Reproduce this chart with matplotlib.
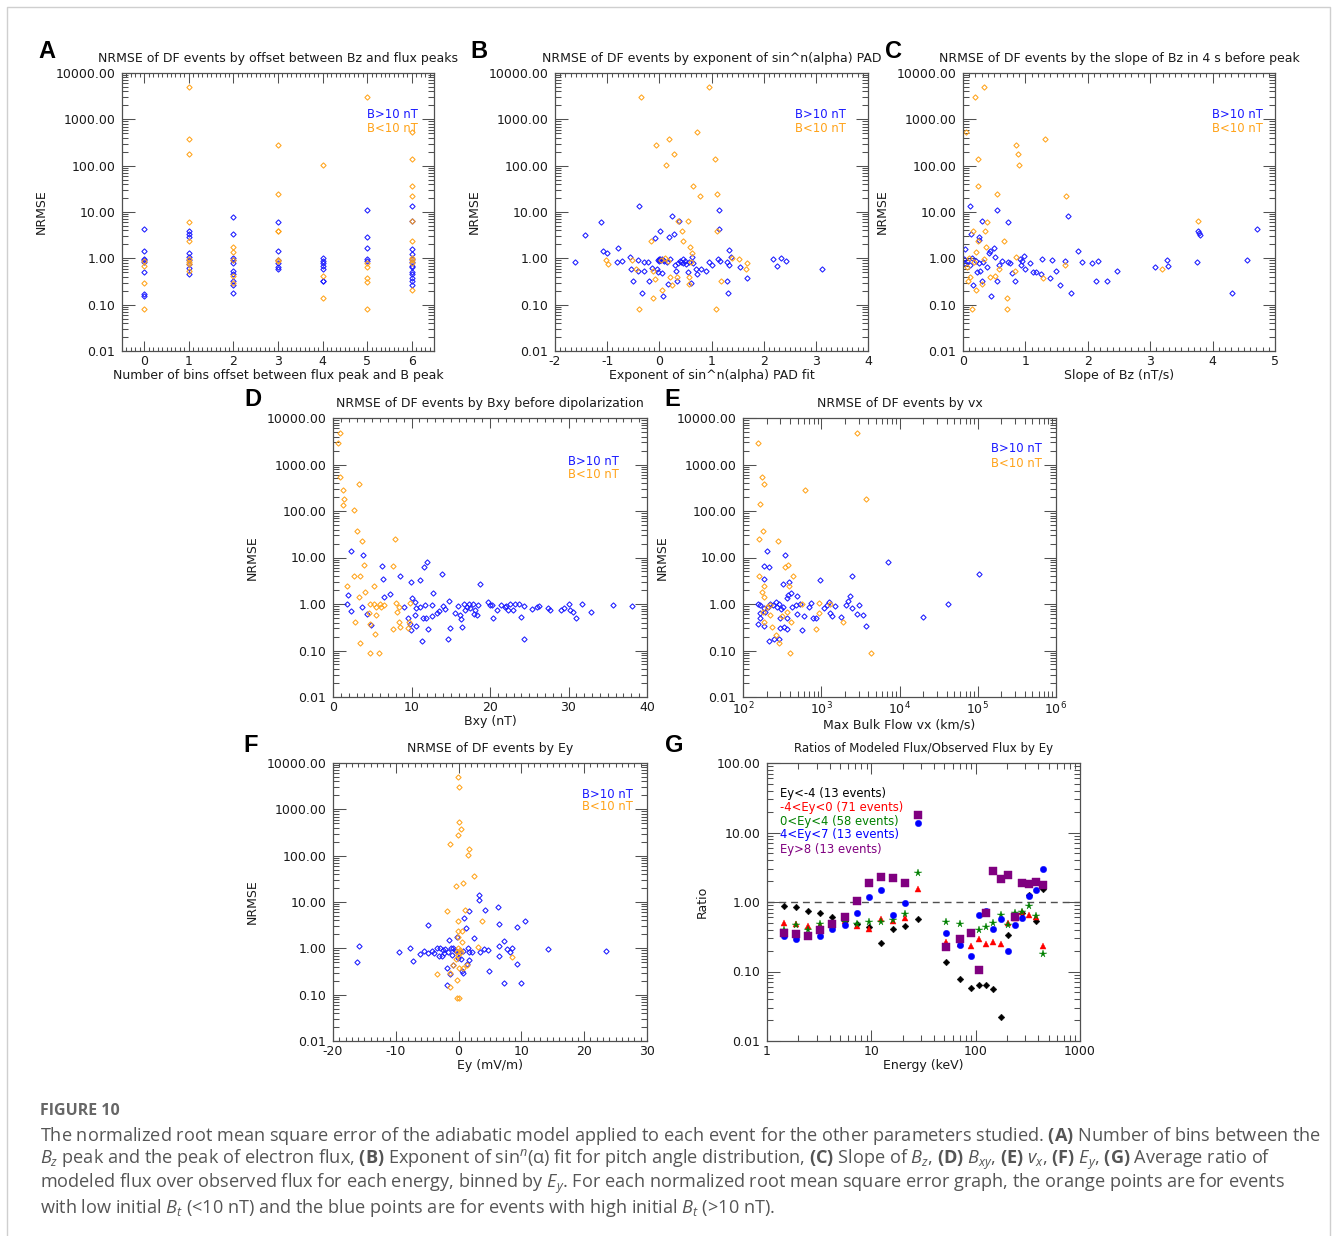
import numpy as np
import matplotlib
matplotlib.use('Agg')
import matplotlib.pyplot as plt
from matplotlib.ticker import MultipleLocator, LogLocator, NullFormatter, FuncFormatter, FixedLocator
from matplotlib.lines import Line2D

plt.rcParams['font.family'] = ['DejaVu Sans']
plt.rcParams['axes.unicode_minus'] = False
plt.rcParams['mathtext.fontset'] = 'custom'
plt.rcParams['mathtext.rm'] = 'Open Sans'
plt.rcParams['mathtext.it'] = 'Open Sans:italic'
plt.rcParams['mathtext.bf'] = 'Open Sans:bold'
plt.rcParams['mathtext.sf'] = 'DejaVu Sans'

# ---------------- data ----------------
# Panel A: offset bins
a_blue_x = [0]*8 + [1]*9 + [2]*10 + [3]*6 + [4]*7 + [5]*5 + [6]*13
a_blue_y = [4.3, 1.42, 0.97, 0.9, 0.85, 0.5, 0.174, 0.152,
            3.85, 3.37, 2.86, 1.3, 1.05, 0.9, 0.75, 0.62, 0.47,
            7.9, 3.3, 1.0, 0.9, 0.8, 0.54, 0.46, 0.33, 0.26, 0.177,
            6.2, 1.47, 0.93, 0.78, 0.66, 0.58,
            1.0, 0.89, 0.78, 0.68, 0.58, 0.33, 0.32,
            10.8, 2.86, 1.67, 0.97, 0.89,
            13.6, 6.45, 1.57, 1.24, 0.95, 0.85, 0.7, 0.65, 0.51, 0.46, 0.37, 0.32, 0.26]
a_orange_x = [0]*4 + [1]*9 + [2]*5 + [3]*6 + [4]*3 + [5]*6 + [6]*10
a_orange_y = [0.89, 0.69, 0.29, 0.082,
              4870, 375, 177, 6.2, 2.34, 0.97, 0.85, 0.75, 0.52,
              1.73, 1.35, 0.93, 0.41, 0.29,
              273, 24.8, 3.92, 3.8, 0.94, 0.86,
              104, 0.41, 0.138,
              3000, 0.78, 0.64, 0.37, 0.31, 0.082,
              525, 138, 36.5, 22.1, 6.45, 2.38, 1.0, 0.9, 0.8, 0.21]

# Panel B: exponent of sin^n PAD fit
b_blue_x = [-1.62, -1.42, -1.125, -1.075, -1.0, -0.82, -0.79, -0.72, -0.564, -0.545, -0.51, -0.40, -0.39,
            -0.40, -0.33, -0.30, -0.30, -0.226, -0.194, -0.136, -0.086, -0.05, -0.02, 0.01, 0.0, 0.01,
            0.04, 0.055, 0.07, 0.09, 0.14, 0.17, 0.19, 0.2, 0.25, 0.28, 0.3, 0.32, 0.336, 0.38, 0.39,
            0.42, 0.456, 0.49, 0.52, 0.55, 0.57, 0.6, 0.62, 0.65, 0.70, 0.725, 0.79, 0.9, 0.955, 1.0,
            1.146, 1.146, 1.13, 1.16, 1.29, 1.3, 1.32, 1.33, 1.34, 1.375, 1.54, 1.69, 2.17, 2.26, 2.34,
            2.43, 3.12, -0.02, 0.0, 0.02, 0.05, 0.07, 0.45, 0.35]
b_blue_y = [0.85, 3.2, 6.2, 1.42, 1.3, 0.85, 1.7, 0.89, 1.08, 0.6, 0.32, 0.52, 13.4,
            0.92, 0.177, 0.54, 0.82, 0.82, 0.32, 0.62, 2.7, 0.6, 0.5, 3.85, 0.89, 0.97,
            0.92, 0.48, 0.155, 0.89, 0.82, 0.28, 2.86, 0.97, 8.0, 3.37, 0.73, 0.54, 0.32, 6.3, 0.89,
            0.82, 0.97, 0.89, 0.75, 0.5, 0.85, 0.29, 1.05, 0.79, 0.6, 0.46, 0.59, 0.54, 0.82, 0.73,
            10.8, 4.3, 0.95, 0.89, 0.32, 0.82, 0.177, 1.54, 0.73, 1.08, 0.64, 0.37, 0.97, 0.68, 1.0,
            0.86, 0.59, 0.93, 0.95, 0.9, 0.96, 0.92, 0.8, 0.78]
b_orange_x = [-0.354, 0.948, -0.073, 0.189, 0.29, 0.12, 0.73, 1.07, 0.65, 0.77, 1.11, 0.36, 0.54, 0.425,
              1.11, -0.156, 0.45, 0.58, 0.635, -1.02, -0.985, -0.526, -0.456, -0.12, -0.08, 0.055,
              -0.124, -0.39, 0.11, 0.17, 0.214, 0.24, 0.336, 0.56, 0.56, 0.6, 1.095, 1.18, 1.4, 1.52,
              1.66, 1.69, 0.03]
b_orange_y = [3000, 4870, 273, 375, 177, 104, 530, 138, 36.5, 22, 25, 6.45, 6.5, 3.85,
              3.85, 2.37, 2.35, 1.73, 1.33, 0.94, 0.75, 0.94, 0.6, 0.54, 0.36, 0.21,
              0.138, 0.082, 1.0, 0.89, 0.40, 0.27, 0.39, 0.39, 0.28, 0.82, 0.082, 0.32, 1.0, 0.97,
              0.6, 0.79, 0.94]

# Panel C: slope of Bz
c_blue_x = [0.107, 0.544, 0.715, 0.31, 0.133, 0.26, 0.25, 0.032, 0.5, 0.44, 0.42, 1.68, 3.77, 3.78, 3.8,
            4.71, 4.55, 3.75, 3.27, 3.29, 3.07, 4.31, 2.47, 2.3, 2.13, 2.16, 2.07, 1.91, 1.85, 1.73,
            1.56, 1.49, 1.42, 1.4, 1.63, 1.26, 1.25, 1.17, 1.12, 1.08, 1.0, 0.98, 0.945, 0.93, 0.92,
            0.83, 0.79, 0.75, 0.725, 0.57, 0.544, 0.52, 0.45, 0.384, 0.32, 0.30, 0.277, 0.224, 0.213,
            0.16, 0.117, 0.064, 0.027, 0.02, 0.144, 0.25, 0.62]
c_blue_y = [13.6, 10.8, 6.2, 6.5, 3.37, 2.86, 2.54, 1.57, 1.67, 1.47, 1.3, 8.0, 3.9, 3.5, 3.15,
            4.3, 0.94, 0.83, 0.94, 0.68, 0.65, 0.177, 0.52, 0.32, 0.33, 0.86, 0.78, 0.83, 1.42, 0.177,
            0.27, 0.54, 0.94, 0.37, 0.86, 0.97, 0.47, 0.51, 0.51, 0.78, 0.6, 1.1, 0.89, 0.73, 0.97,
            0.32, 0.48, 0.78, 0.82, 0.73, 0.32, 1.05, 0.155, 0.64, 0.82, 0.33, 0.54, 0.5, 0.89,
            0.26, 0.73, 0.89, 0.78, 0.97, 1.0, 0.78, 0.89]
c_orange_x = [0.34, 0.20, 0.053, 0.854, 0.88, 0.89, 1.32, 0.24, 0.235, 0.544, 1.65, 0.384, 0.347, 0.16,
              0.235, 0.65, 0.37, 0.21, 3.77, 3.19, 0.08, 0.117, 0.213, 0.144, 0.70, 0.71, 0.43, 0.52,
              0.57, 0.83, 0.85, 1.28, 1.64, 0.1, 0.17, 0.06, 0.33, 0.30]
c_orange_y = [4870, 3000, 525, 273, 177, 104, 375, 138, 36.5, 25, 22, 6.2, 3.85, 3.9,
              2.38, 2.35, 1.73, 1.35, 6.5, 0.6, 0.33, 0.4, 0.21, 0.082, 0.138, 0.082, 0.39, 0.41,
              0.58, 0.54, 1.05, 0.37, 0.72, 1.0, 0.82, 0.64, 0.97, 0.28]

# Panel D: Bxy before dipolarization
d_blue_x = [2.34, 3.83, 6.2, 6.4, 8.5, 9.9, 11.1, 11.6, 12.0, 12.8, 13.9, 18.7, 1.87, 1.79, 2.26, 3.7,
            4.34, 4.85, 6.55, 7.3, 9.06, 9.57, 9.8, 9.96, 10.1, 10.4, 10.4, 10.55, 10.6, 11.06, 11.3,
            11.5, 11.7, 11.9, 12.1, 12.55, 12.55, 13.2, 13.5, 14.0, 14.26, 14.7, 14.9, 14.8, 15.5,
            15.96, 16.2, 16.3, 16.4, 16.7, 16.85, 17.1, 17.3, 17.5, 17.8, 17.9, 18.1, 18.4, 18.5,
            19.8, 20.0, 20.3, 20.4, 20.85, 21.4, 21.9, 22.1, 22.3, 22.5, 22.9, 23.2, 23.7, 24.0,
            24.3, 24.3, 25.4, 25.96, 26.2, 27.4, 27.7, 29.1, 29.45, 30.0, 30.2, 30.6, 30.97, 31.7,
            32.85, 35.7, 38.1]
d_blue_y = [14.1, 11.4, 6.6, 3.45, 3.95, 2.98, 3.3, 6.4, 8.0, 1.75, 4.4, 2.74, 1.54, 0.98, 0.7, 0.88,
            0.6, 0.35, 1.44, 1.62, 0.88, 0.49, 0.38, 0.275, 1.37, 1.12, 0.58, 0.81, 0.34, 0.88, 0.162,
            0.51, 0.94, 0.51, 0.285, 0.95, 0.55, 0.65, 0.7, 0.92, 0.78, 0.18, 0.31, 1.16, 0.65,
            0.92, 0.58, 0.475, 0.325, 1.0, 0.74, 0.88, 1.0, 0.82, 1.0, 0.6, 0.74, 0.58, 0.95,
            1.08, 0.95, 0.95, 0.51, 0.74, 0.95, 0.88, 0.92, 0.74, 1.0, 0.74, 0.98, 1.0, 0.53,
            0.18, 0.92, 0.78, 0.88, 0.92, 0.81, 0.74, 0.74, 0.83, 1.0, 0.74, 0.68, 0.51, 1.02,
            0.67, 0.95, 0.9]
d_orange_x = [0.85, 0.68, 0.94, 1.23, 1.4, 1.28, 2.72, 3.28, 3.06, 3.7, 7.9, 4.0, 2.68, 3.45, 7.7,
              1.79, 5.28, 4.04, 3.32, 4.77, 5.28, 6.0, 5.5, 6.17, 6.47, 8.0, 8.4, 8.17, 9.8, 2.77,
              4.6, 4.68, 5.5, 5.4, 3.49, 4.72, 5.87, 7.66, 8.4, 8.5, 9.6, 9.66]
d_orange_y = [4770, 2950, 535, 282, 180, 136, 104, 373, 37, 22.8, 25.6, 6.8, 4.0, 4.0, 6.5,
              2.44, 2.4, 1.78, 1.41, 1.0, 1.0, 1.0, 0.88, 0.88, 0.95, 1.07, 0.88, 0.68, 1.03, 0.415,
              0.65, 0.38, 0.57, 0.222, 0.147, 0.088, 0.088, 0.29, 0.415, 0.32, 0.30, 0.415]

# Panel E: max bulk flow vx
e_blue_x = [202, 347, 187, 217, 187, 327, 383, 960, 2500, 7160, 104000, 42200, 20000, 365, 376, 410,
            486, 2350, 2190, 2090, 3070, 2850, 3400, 3740, 2500, 1780, 1370, 1280, 1240, 1180, 1510,
            1070, 863, 780, 745, 690, 606, 566, 490, 475, 422, 365, 365, 330, 294, 300, 285, 250,
            217, 184, 154, 166, 166, 154, 166, 184, 193, 207, 223, 241, 261, 272, 285, 306, 324, 528]
e_blue_y = [14.1, 11.2, 6.6, 6.4, 3.45, 2.74, 3.0, 3.3, 3.95, 8.0, 4.4, 1.0, 0.525, 1.37, 1.6, 1.73,
            1.51, 1.49, 1.16, 0.95, 0.95, 0.6, 0.57, 0.33, 0.83, 0.53, 0.56, 0.65, 1.12, 0.95, 0.92,
            0.83, 0.49, 0.51, 1.03, 0.88, 0.56, 0.275, 0.6, 0.95, 0.88, 0.49, 0.285, 0.325, 0.3, 0.49,
            0.18, 0.18, 0.162, 0.34, 0.38, 0.51, 0.63, 1.0, 0.95, 0.83, 0.68, 0.88, 1.0, 0.95, 1.12,
            0.88, 1.0, 0.78, 0.88, 1.0]
e_orange_x = [154, 175, 185, 165, 180, 158, 283, 612, 2890, 3680, 162, 185, 176, 187, 347, 372, 435,
              387, 202, 223, 180, 219, 235, 261, 285, 395, 414, 363, 566, 853, 925, 925, 1300, 1890,
              4260, 183, 315]
e_orange_y = [2950, 530, 380, 138, 38, 25.6, 22.8, 277, 4770, 180, 4.0, 2.4, 1.78, 1.41, 6.4, 6.8, 4.0,
              2.4, 0.88, 0.95, 0.68, 0.58, 0.325, 0.215, 0.142, 0.088, 0.415, 0.68, 1.0, 0.29, 1.03,
              0.65, 1.02, 0.415, 0.088, 0.41, 0.55]

# Panel F: Ey
f_blue_x = [-15.8, -16.2, -9.57, -7.7, -7.2, -6.17, -5.48, -4.95, -4.95, -4.3, -3.88, -3.5, -3.2, -2.7,
            -2.34, -1.9, -1.8, -1.5, -1.4, -1.17, -1.0, -0.85, -0.6, -0.32, -0.05, 0.32, 0.58, 0.64,
            0.74, 0.85, 1.1, 1.28, 1.5, 1.7, 1.7, 1.6, 2.07, 2.45, 3.2, 3.3, 3.4, 4.15, 4.04, 4.73,
            4.9, 6.2, 6.4, 6.4, 6.4, 7.3, 7.3, 7.66, 8.2, 8.56, 9.26, 9.26, 9.95, 10.6, 14.3, 23.5,
            -2.98, -2.45, -2.18, -1.65, -0.85, -0.43, 0.1]
f_blue_y = [1.1, 0.515, 0.85, 1.0, 0.53, 0.75, 0.875, 3.2, 0.8, 0.875, 0.78, 1.0, 0.69, 0.69,
            0.78, 0.37, 0.16, 1.49, 0.28, 1.0, 0.72, 0.435, 0.92, 1.79, 0.63, 0.59, 0.32, 0.29,
            0.89, 4.45, 2.75, 0.47, 1.0, 6.4, 0.85, 0.55, 0.85, 1.64, 14.0, 10.9, 0.85, 6.6, 0.97, 0.92,
            0.32, 7.9, 3.4, 1.14, 0.69, 1.46, 0.18, 0.95, 0.85, 1.0, 2.94, 0.47, 0.18, 3.9, 0.97, 0.875,
            1.0, 0.92, 0.97, 0.85, 1.0, 0.875, 0.78]
f_orange_x = [-0.05, 0.0, 0.0, 0.37, -0.1, -1.33, 1.7, 1.54, 2.45, 0.74, -0.43, -1.86, 1.0, -0.1, 3.8,
              -0.05, 0.58, -0.1, 0.53, -0.16, 0.21, 0.32, -0.05, -0.43, -0.85, -1.38, -3.4, -1.33,
              -0.32, 0.1, -0.21, 0.05, 3.08, 8.5, 1.28, 0.74, -0.27]
f_orange_y = [4900, 2990, 531, 375, 282, 178, 138, 105, 36.7, 25.9, 22.3, 6.4, 6.75, 3.9, 3.97,
              2.37, 2.37, 1.73, 1.35, 1.0, 0.92, 0.82, 0.72, 0.59, 0.435, 0.30, 0.28, 0.144,
              0.21, 0.38, 0.084, 0.084, 1.07, 0.66, 0.435, 0.37, 0.85]

# Panel G: ratio of modeled / observed flux by Ey bins
g_energy = [1.44, 1.88, 2.47, 3.25, 4.24, 5.56, 7.25, 9.52, 12.4, 16.3, 21.2, 27.9,
            51.4, 70.5, 89.3, 107, 126, 147, 173, 202, 236, 275, 321, 375, 438]
g_ey_lt_m4 = [0.866, 0.85, 0.74, 0.69, 0.61, 0.54, 0.48, 0.44, 0.26, 0.41, 0.45, 0.57,
              0.138, 0.079, 0.058, 0.063, 0.065, 0.056, 0.022, 0.34, 0.62, 0.70, 1.28, 0.54, 1.56]
g_ey_m4_0 = [0.50, 0.48, 0.45, 0.47, 0.48, 0.53, 0.45, 0.41, 0.57, 0.54, 0.58, 1.54,
             0.265, 0.25, 0.23, 0.29, 0.25, 0.27, 0.25, 0.50, 0.59, 0.72, 0.66, 0.60, 0.234]
g_ey_0_4 = [0.39, 0.46, 0.40, 0.48, 0.48, 0.51, 0.48, 0.51, 0.51, 0.55, 0.67, 2.62,
            0.51, 0.48, 0.36, 0.39, 0.43, 0.50, 0.66, 0.46, 0.69, 0.72, 0.87, 0.63, 0.18]
g_ey_4_7 = [0.32, 0.29, 0.33, 0.32, 0.41, 0.46, 0.69, 1.19, 1.49, 0.64, 0.98, 13.5,
            0.36, 0.24, 0.165, 0.64, 0.73, 0.41, 0.57, 0.196, 0.47, 0.58, 1.22, 1.49, 2.96]
g_ey_gt_8 = [0.36, 0.35, 0.32, 0.40, 0.48, 0.61, 1.04, 1.88, 2.32, 2.24, 1.88, 17.6,
             0.227, 0.29, 0.36, 0.104, 0.69, 2.77, 2.15, 2.45, 0.60, 1.90, 1.82, 1.92, 1.78]
g_labels = ['Ey<-4 (13 events)', '-4<Ey<0 (71 events)', '0<Ey<4 (58 events)',
            '4<Ey<7 (13 events)', 'Ey>8 (13 events)']

nrmse_ticks = [0.01, 0.1, 1, 10, 100, 1000, 10000]
ratio_ticks = [0.01, 0.1, 1, 10, 100]
energy_ticks = [1, 10, 100, 1000]
vx_ticks = [1e2, 1e3, 1e4, 1e5, 1e6]

# ---------------- figure ----------------
W, H = 1333, 1236
fig = plt.figure(figsize=(W / 100, H / 100), dpi=100)
fig.patch.set_facecolor('white')

SPINE = '#505050'
BLUE = '#1a1aff'
ORANGE = '#ffa31a'
TXT = 9
LEG = 8.4


def make_ax(l, r, t, b):
    return fig.add_axes([l / W, 1 - b / H, (r - l) / W, (b - t) / H])


def style(ax, ylim, yticks, xlog=False):
    ax.set_yscale('log')
    ax.set_ylim(*ylim)
    ax.yaxis.set_major_locator(FixedLocator(yticks))
    ax.yaxis.set_minor_locator(LogLocator(base=10, subs=np.arange(2, 10), numticks=30))
    ax.yaxis.set_major_formatter(FuncFormatter(lambda v, p: f'{v:.2f}'))
    ax.yaxis.set_minor_formatter(NullFormatter())
    for s in ax.spines.values():
        s.set_color(SPINE)
        s.set_linewidth(0.9)
    ax.tick_params(which='both', direction='in', top=True, right=True,
                   color=SPINE, width=0.75, labelsize=TXT, labelcolor='#1a1a1a')
    ax.tick_params(axis='y', which='major', length=9, pad=5)
    ax.tick_params(axis='y', which='minor', length=4.5)
    if xlog:
        ax.tick_params(axis='x', which='major', length=8, pad=3)
        ax.tick_params(axis='x', which='minor', length=4.5)
    else:
        ax.tick_params(axis='x', which='major', length=7, pad=3)
        ax.tick_params(axis='x', which='minor', length=3)


def scatter_panel(ax, bx, by, ox, oy):
    ax.plot(bx, by, linestyle='none', marker='D', ms=2.7, mfc='none', mec=BLUE, mew=0.75)
    ax.plot(ox, oy, linestyle='none', marker='D', ms=2.7, mfc='none', mec=ORANGE, mew=0.75)


def legend_text(ax, xr, y1, y2):
    ax.text(xr, y1, 'B>10 nT', color=BLUE, fontsize=LEG, ha='right', va='center', transform=ax.transAxes)
    ax.text(xr, y2, 'B<10 nT', color=ORANGE, fontsize=LEG, ha='right', va='center', transform=ax.transAxes)


def labels(ax, title, xlabel, ylabel='NRMSE', tsize=TXT):
    ax.set_title(title, fontsize=tsize, pad=8, color='#1a1a1a')
    ax.set_xlabel(xlabel, fontsize=TXT, labelpad=0.5, color='#1a1a1a')
    ax.set_ylabel(ylabel, fontsize=TXT, labelpad=5.5, color='#1a1a1a')


NR = (0.01, 10000)

# A
axA = make_ax(122, 434, 73, 351)
scatter_panel(axA, a_blue_x, a_blue_y, a_orange_x, a_orange_y)
style(axA, NR, nrmse_ticks)
axA.set_xlim(-0.5, 6.5)
axA.xaxis.set_major_locator(MultipleLocator(1))
axA.xaxis.set_minor_locator(MultipleLocator(0.1))
legend_text(axA, 0.949, 0.849, 0.799)
labels(axA, 'NRMSE of DF events by offset between Bz and flux peaks',
       'Number of bins offset between flux peak and B peak')

# B
axB = make_ax(555, 868, 73, 351)
scatter_panel(axB, b_blue_x, b_blue_y, b_orange_x, b_orange_y)
style(axB, NR, nrmse_ticks)
axB.set_xlim(-2, 4)
axB.xaxis.set_major_locator(MultipleLocator(1))
axB.xaxis.set_minor_locator(MultipleLocator(0.1))
legend_text(axB, 0.930, 0.849, 0.799)
labels(axB, 'NRMSE of DF events by exponent of sin^n(alpha) PAD',
       'Exponent of sin^n(alpha) PAD fit')

# C
axC = make_ax(963, 1275, 73, 351)
scatter_panel(axC, c_blue_x, c_blue_y, c_orange_x, c_orange_y)
style(axC, NR, nrmse_ticks)
axC.set_xlim(0, 5)
axC.xaxis.set_major_locator(MultipleLocator(1))
axC.xaxis.set_minor_locator(MultipleLocator(0.1))
legend_text(axC, 0.962, 0.849, 0.799)
labels(axC, 'NRMSE of DF events by the slope of Bz in 4 s before peak', 'Slope of Bz (nT/s)')

# D
axD = make_ax(333, 647, 418, 697)
scatter_panel(axD, d_blue_x, d_blue_y, d_orange_x, d_orange_y)
style(axD, NR, nrmse_ticks)
axD.set_xlim(0, 40)
axD.xaxis.set_major_locator(MultipleLocator(10))
axD.xaxis.set_minor_locator(MultipleLocator(1))
legend_text(axD, 0.911, 0.845, 0.799)
labels(axD, 'NRMSE of DF events by Bxy before dipolarization', 'Bxy (nT)')

# E
axE = make_ax(743, 1056, 418, 697)
scatter_panel(axE, e_blue_x, e_blue_y, e_orange_x, e_orange_y)
axE.set_xscale('log')
style(axE, NR, nrmse_ticks, xlog=True)
axE.set_xlim(1e2, 1e6)
axE.xaxis.set_major_locator(FixedLocator(vx_ticks))
axE.xaxis.set_minor_locator(LogLocator(base=10, subs=np.arange(2, 10), numticks=30))
axE.xaxis.set_major_formatter(FuncFormatter(lambda v, p: r'$\mathsf{10^{%d}}$' % round(np.log10(v))))
axE.xaxis.set_minor_formatter(NullFormatter())
legend_text(axE, 0.955, 0.892, 0.838)
labels(axE, 'NRMSE of DF events by vx', 'Max Bulk Flow vx (km/s)')

# F
axF = make_ax(333, 647, 763, 1041)
scatter_panel(axF, f_blue_x, f_blue_y, f_orange_x, f_orange_y)
style(axF, NR, nrmse_ticks)
axF.set_xlim(-20, 30)
axF.xaxis.set_major_locator(MultipleLocator(10))
axF.xaxis.set_minor_locator(MultipleLocator(1))
legend_text(axF, 0.955, 0.888, 0.842)
labels(axF, 'NRMSE of DF events by Ey', 'Ey (mV/m)')

# G
axG = make_ax(767, 1080, 763, 1041)
axG.set_xscale('log')
axG.axhline(1.0, color='#505050', lw=1.0, ls=(0, (5, 3.5)), zorder=1)
g_series = [g_ey_lt_m4, g_ey_m4_0, g_ey_0_4, g_ey_4_7, g_ey_gt_8]
g_colors = ['black', '#ff0000', '#008000', '#0000ff', '#800080']
g_markers = ['D', '^', '*', 'o', 's']
g_sizes = [3.4, 4.6, 5.6, 4.6, 5.2]
for vals, col, mk, sz in zip(g_series, g_colors, g_markers, g_sizes):
    axG.plot(g_energy, vals, linestyle='none', marker=mk, ms=sz, color=col, mec=col, mew=0.3, zorder=3)
style(axG, (0.01, 100), ratio_ticks, xlog=True)
axG.set_xlim(1, 1000)
axG.xaxis.set_major_locator(FixedLocator(energy_ticks))
axG.xaxis.set_minor_locator(LogLocator(base=10, subs=np.arange(2, 10), numticks=30))
axG.xaxis.set_major_formatter(FuncFormatter(lambda v, p: f'{v:g}'))
axG.xaxis.set_minor_formatter(NullFormatter())
for i, (lab, col) in enumerate(zip(g_labels, g_colors)):
    axG.text(0.042, 1 - (30 + 14 * i) / 278, lab, color=col, fontsize=LEG,
             ha='left', va='center', transform=axG.transAxes)
labels(axG, 'Ratios of Modeled Flux/Observed Flux by Ey', 'Energy (keV)', ylabel='Ratio', tsize=8.5)

# panel letters
for letter, (px, py) in zip('ABCDEFG', [(47, 52), (479, 52), (893, 52), (253, 400),
                                        (672, 400), (251, 746), (674, 746)]):
    fig.text(px / W, 1 - py / H, letter, fontsize=17, fontweight='bold',
             family='Liberation Sans', ha='center', va='center', color='black')

# border
bc = '#cfcfcf'
fig.add_artist(Line2D([7 / W, 7 / W, 1330 / W, 1330 / W], [0, 1 - 7 / H, 1 - 7 / H, 0],
                      transform=fig.transFigure, color=bc, lw=1.0))

# caption
CAP = '#555555'
cap_font = 'Open Sans'
fig.text(40 / W, 1 - 1111 / H, 'FIGURE 10', fontsize=11.5, color='#666666', family=cap_font,
         fontweight='bold', ha='left', va='center')
cap_lines = [
    r'The normalized root mean square error of the adiabatic model applied to each event for the other parameters studied. $\mathbf{(A)}$ Number of bins between the',
    r'$B_{z}$ peak and the peak of electron flux, $\mathbf{(B)}$ Exponent of sin$^{n}$(α) fit for pitch angle distribution, $\mathbf{(C)}$ Slope of $B_{z}$, $\mathbf{(D)}$ $B_{xy}$, $\mathbf{(E)}$ $v_{x}$, $\mathbf{(F)}$ $E_{y}$, $\mathbf{(G)}$ Average ratio of',
    r'modeled flux over observed flux for each energy, binned by $E_{y}$. For each normalized root mean square error graph, the orange points are for events',
    r'with low initial $B_{t}$ (<10 nT) and the blue points are for events with high initial $B_{t}$ (>10 nT).',
]
for i, line in enumerate(cap_lines):
    fig.text(40 / W, 1 - (1136 + 24 * i) / H, line, fontsize=13.05, color=CAP, family=cap_font,
             ha='left', va='center')

fig.savefig('out.png', dpi=100, facecolor='white')
